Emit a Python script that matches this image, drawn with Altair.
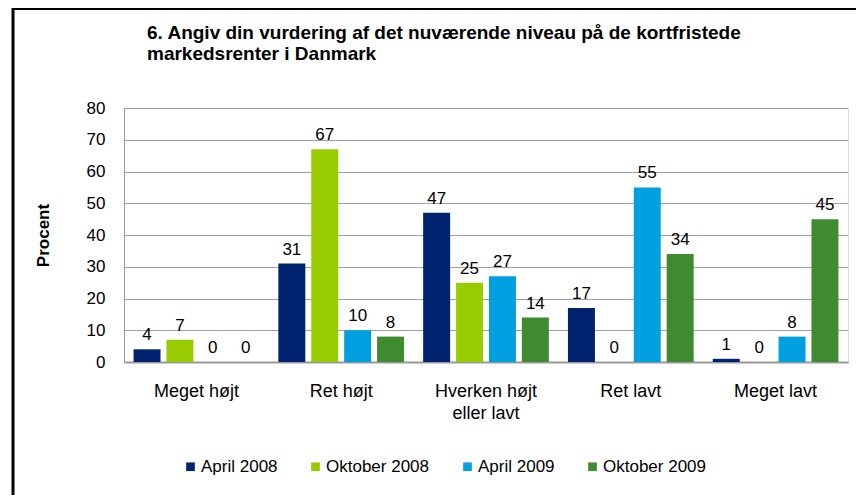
import altair as alt
import pandas as pd

categories = ["Meget højt", "Ret højt", "Hverken højt eller lavt", "Ret lavt", "Meget lavt"]
series = ["April 2008", "Oktober 2008", "April 2009", "Oktober 2009"]
values = {
    "April 2008": [4, 31, 47, 17, 1],
    "Oktober 2008": [7, 67, 25, 0, 0],
    "April 2009": [0, 10, 27, 55, 8],
    "Oktober 2009": [0, 8, 14, 34, 45],
}
colors = ["#00236F", "#99CC00", "#00A0E0", "#3F8B2F"]
y_ticks = [0, 10, 20, 30, 40, 50, 60, 70, 80]
title_lines = ["6. Angiv din vurdering af det nuværende niveau på de kortfristede",
               "markedsrenter i Danmark"]

rows = []
for s in series:
    for c, v in zip(categories, values[s]):
        rows.append({"Kategori": c, "Serie": s, "Procent": v})
df = pd.DataFrame(rows)

FONT = "Liberation Sans"

x_enc = alt.X("Kategori:N", sort=categories,
              scale=alt.Scale(paddingInner=0, paddingOuter=0),
              axis=alt.Axis(title=None, labelAngle=0, labelFontSize=18, labelFont=FONT,
                            labelColor="black", labelPadding=20, tickSize=0,
                            labelLineHeight=22, domainColor="#999999", domainWidth=2,
                            labelExpr="datum.label == 'Hverken højt eller lavt' ? ['Hverken højt', 'eller lavt'] : datum.label"))
xo_enc = alt.XOffset("Serie:N", sort=series,
                     scale=alt.Scale(paddingInner=0.18, paddingOuter=0.29))
y_enc = alt.Y("Procent:Q", scale=alt.Scale(domain=[0, 80], nice=False),
              axis=alt.Axis(values=y_ticks, tickCount=9, labelOverlap=False,
                            title="Procent", titleFont=FONT, titleFontSize=17,
                            titleFontWeight="bold", titleColor="black", titleX=-72, titleY=127,
                            labelFontSize=17, labelFont=FONT, labelColor="black",
                            labelPadding=19, tickSize=0, domainColor="#999999",
                            gridColor="#A0A0A0", gridWidth=1))

bars = alt.Chart(df).mark_bar().encode(
    x=x_enc, xOffset=xo_enc, y=y_enc,
    color=alt.Color("Serie:N", sort=series,
                    scale=alt.Scale(domain=series, range=colors),
                    legend=alt.Legend(title=None, orient="none", direction="horizontal",
                                      legendX=58, legendY=350, columns=4,
                                      symbolType="square", symbolSize=75,
                                      symbolStrokeWidth=0, labelFont=FONT,
                                      labelFontSize=17, labelColor="black",
                                      labelOffset=2, columnPadding=29)),
)

labels = alt.Chart(df).mark_text(baseline="bottom", dy=-5, fontSize=17, font=FONT,
                                 color="black").encode(
    x=x_enc, xOffset=xo_enc, y=y_enc, text="Procent:Q")

title = alt.Chart(pd.DataFrame({"a": [0]})).mark_text(
    align="left", baseline="alphabetic", font=FONT, fontSize=19, fontWeight="bold",
    color="black", lineHeight=21.5).encode(
    x=alt.value(23), y=alt.value(-69.5), text=alt.value(title_lines))

frame = alt.Chart(pd.DataFrame({"a": [0]})).mark_rect(
    fill=None, stroke="black", strokeWidth=3).encode(
    x=alt.value(-111), x2=alt.value(800), y=alt.value(-99.5), y2=alt.value(500))

chart = alt.layer(bars, labels, title, frame).properties(
    width=724, height=254,
    autosize=alt.AutoSizeParams(type="none"),
    padding={"left": 116, "top": 100, "right": 8, "bottom": 133},
).configure_view(stroke=None).configure(background="white")

chart.save("out.html", embed_options={"renderer": "svg", "actions": False})
